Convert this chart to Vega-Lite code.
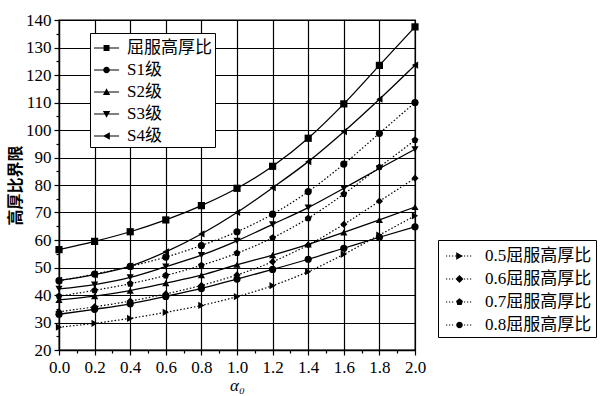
{
  "$schema": "https://vega.github.io/schema/vega-lite/v6.json",
  "width": 356,
  "height": 330,
  "autosize": {"type": "none"},
  "padding": {"left": 59, "top": 20, "right": 185, "bottom": 46},
  "background": "white",
  "datasets": {
    "solid": [
      {"x": 0, "v": 56.5, "s": "屈服高厚比"}, {"x": 0.2, "v": 59.5, "s": "屈服高厚比"}, {"x": 0.4, "v": 63, "s": "屈服高厚比"}, {"x": 0.6, "v": 67.3, "s": "屈服高厚比"}, {"x": 0.8, "v": 72.5, "s": "屈服高厚比"}, {"x": 1.0, "v": 78.8, "s": "屈服高厚比"}, {"x": 1.2, "v": 86.8, "s": "屈服高厚比"}, {"x": 1.4, "v": 97, "s": "屈服高厚比"}, {"x": 1.6, "v": 109.5, "s": "屈服高厚比"}, {"x": 1.8, "v": 123.5, "s": "屈服高厚比"}, {"x": 2.0, "v": 137.5, "s": "屈服高厚比"},
      {"x": 0, "v": 33, "s": "S1级"}, {"x": 0.2, "v": 34.8, "s": "S1级"}, {"x": 0.4, "v": 36.8, "s": "S1级"}, {"x": 0.6, "v": 39.5, "s": "S1级"}, {"x": 0.8, "v": 42.4, "s": "S1级"}, {"x": 1.0, "v": 45.8, "s": "S1级"}, {"x": 1.2, "v": 49.3, "s": "S1级"}, {"x": 1.4, "v": 53, "s": "S1级"}, {"x": 1.6, "v": 57, "s": "S1级"}, {"x": 1.8, "v": 61, "s": "S1级"}, {"x": 2.0, "v": 64.8, "s": "S1级"},
      {"x": 0, "v": 38.2, "s": "S2级"}, {"x": 0.2, "v": 39.6, "s": "S2级"}, {"x": 0.4, "v": 41.6, "s": "S2级"}, {"x": 0.6, "v": 44.3, "s": "S2级"}, {"x": 0.8, "v": 47.2, "s": "S2级"}, {"x": 1.0, "v": 51, "s": "S2级"}, {"x": 1.2, "v": 54.5, "s": "S2级"}, {"x": 1.4, "v": 58.4, "s": "S2级"}, {"x": 1.6, "v": 62.8, "s": "S2级"}, {"x": 1.8, "v": 67.3, "s": "S2级"}, {"x": 2.0, "v": 72, "s": "S2级"},
      {"x": 0, "v": 42.2, "s": "S3级"}, {"x": 0.2, "v": 43.8, "s": "S3级"}, {"x": 0.4, "v": 46.4, "s": "S3级"}, {"x": 0.6, "v": 50.3, "s": "S3级"}, {"x": 0.8, "v": 54.5, "s": "S3级"}, {"x": 1.0, "v": 59.7, "s": "S3级"}, {"x": 1.2, "v": 65.7, "s": "S3级"}, {"x": 1.4, "v": 71.8, "s": "S3级"}, {"x": 1.6, "v": 78.8, "s": "S3级"}, {"x": 1.8, "v": 86, "s": "S3级"}, {"x": 2.0, "v": 93, "s": "S3级"},
      {"x": 0, "v": 45.3, "s": "S4级"}, {"x": 0.2, "v": 47.4, "s": "S4级"}, {"x": 0.4, "v": 50.5, "s": "S4级"}, {"x": 0.6, "v": 55.7, "s": "S4级"}, {"x": 0.8, "v": 62.2, "s": "S4级"}, {"x": 1.0, "v": 70, "s": "S4级"}, {"x": 1.2, "v": 79, "s": "S4级"}, {"x": 1.4, "v": 88.5, "s": "S4级"}, {"x": 1.6, "v": 99.4, "s": "S4级"}, {"x": 1.8, "v": 111.2, "s": "S4级"}, {"x": 2.0, "v": 123.6, "s": "S4级"}
    ],
    "dotted": [
      {"x": 0, "v": 28.3, "s": "0.5屈服高厚比"}, {"x": 0.2, "v": 29.7, "s": "0.5屈服高厚比"}, {"x": 0.4, "v": 31.5, "s": "0.5屈服高厚比"}, {"x": 0.6, "v": 33.7, "s": "0.5屈服高厚比"}, {"x": 0.8, "v": 36.2, "s": "0.5屈服高厚比"}, {"x": 1.0, "v": 39.4, "s": "0.5屈服高厚比"}, {"x": 1.2, "v": 43.4, "s": "0.5屈服高厚比"}, {"x": 1.4, "v": 48.5, "s": "0.5屈服高厚比"}, {"x": 1.6, "v": 54.8, "s": "0.5屈服高厚比"}, {"x": 1.8, "v": 61.8, "s": "0.5屈服高厚比"}, {"x": 2.0, "v": 68.8, "s": "0.5屈服高厚比"},
      {"x": 0, "v": 33.9, "s": "0.6屈服高厚比"}, {"x": 0.2, "v": 35.7, "s": "0.6屈服高厚比"}, {"x": 0.4, "v": 37.8, "s": "0.6屈服高厚比"}, {"x": 0.6, "v": 40.4, "s": "0.6屈服高厚比"}, {"x": 0.8, "v": 43.5, "s": "0.6屈服高厚比"}, {"x": 1.0, "v": 47.3, "s": "0.6屈服高厚比"}, {"x": 1.2, "v": 52.1, "s": "0.6屈服高厚比"}, {"x": 1.4, "v": 58.2, "s": "0.6屈服高厚比"}, {"x": 1.6, "v": 65.7, "s": "0.6屈服高厚比"}, {"x": 1.8, "v": 74.1, "s": "0.6屈服高厚比"}, {"x": 2.0, "v": 82.5, "s": "0.6屈服高厚比"},
      {"x": 0, "v": 39.6, "s": "0.7屈服高厚比"}, {"x": 0.2, "v": 41.7, "s": "0.7屈服高厚比"}, {"x": 0.4, "v": 44.1, "s": "0.7屈服高厚比"}, {"x": 0.6, "v": 47.1, "s": "0.7屈服高厚比"}, {"x": 0.8, "v": 50.8, "s": "0.7屈服高厚比"}, {"x": 1.0, "v": 55.2, "s": "0.7屈服高厚比"}, {"x": 1.2, "v": 60.8, "s": "0.7屈服高厚比"}, {"x": 1.4, "v": 67.9, "s": "0.7屈服高厚比"}, {"x": 1.6, "v": 76.7, "s": "0.7屈服高厚比"}, {"x": 1.8, "v": 86.5, "s": "0.7屈服高厚比"}, {"x": 2.0, "v": 96.3, "s": "0.7屈服高厚比"},
      {"x": 0, "v": 45.2, "s": "0.8屈服高厚比"}, {"x": 0.2, "v": 47.6, "s": "0.8屈服高厚比"}, {"x": 0.4, "v": 50.4, "s": "0.8屈服高厚比"}, {"x": 0.6, "v": 53.8, "s": "0.8屈服高厚比"}, {"x": 0.8, "v": 58, "s": "0.8屈服高厚比"}, {"x": 1.0, "v": 63, "s": "0.8屈服高厚比"}, {"x": 1.2, "v": 69.4, "s": "0.8屈服高厚比"}, {"x": 1.4, "v": 77.6, "s": "0.8屈服高厚比"}, {"x": 1.6, "v": 87.6, "s": "0.8屈服高厚比"}, {"x": 1.8, "v": 98.8, "s": "0.8屈服高厚比"}, {"x": 2.0, "v": 110, "s": "0.8屈服高厚比"}
    ]
  },
  "layer": [
    {
      "data": {"name": "solid"},
      "mark": {"type": "line", "interpolate": "monotone", "stroke": "black", "strokeWidth": 1.3},
      "encoding": {
        "x": {"field": "x", "type": "quantitative", "scale": {"domain": [0, 2], "nice": false, "zero": false},
          "axis": {"orient": "bottom", "values": [0, 0.2, 0.4, 0.6, 0.8, 1.0, 1.2, 1.4, 1.6, 1.8, 2.0], "format": ".1f", "title": "α₀",
            "titleFont": "Liberation Serif, DejaVu Serif", "titleFontStyle": "italic", "titleFontWeight": "normal", "titleFontSize": 17, "titlePadding": 2,
            "grid": true, "tickSize": 5, "labelPadding": 4, "labelFlush": false, "labelOverlap": false}},
        "y": {"field": "v", "type": "quantitative", "scale": {"domain": [20, 140], "nice": false, "zero": false},
          "axis": {"orient": "left", "values": [20, 30, 40, 50, 60, 70, 80, 90, 100, 110, 120, 130, 140], "format": "d", "title": "高厚比界限",
            "titleFont": "Noto Sans CJK SC", "titleFontWeight": "bold", "titleFontSize": 16, "titlePadding": 2,
            "grid": true, "tickSize": 5, "labelPadding": 3, "labelFlush": false, "labelOverlap": false}},
        "detail": {"field": "s"}
      }
    },
    {
      "data": {"name": "dotted"},
      "mark": {"type": "line", "interpolate": "monotone", "stroke": "black", "strokeWidth": 1.2, "strokeDash": [1.5, 2]},
      "encoding": {
        "x": {"field": "x", "type": "quantitative",
          "axis": {"orient": "bottom", "values": [0.1, 0.3, 0.5, 0.7, 0.9, 1.1, 1.3, 1.5, 1.7, 1.9], "labels": false, "grid": false, "domain": false, "tickSize": 3, "title": null}},
        "y": {"field": "v", "type": "quantitative",
          "axis": {"orient": "left", "values": [25, 35, 45, 55, 65, 75, 85, 95, 105, 115, 125, 135], "labels": false, "grid": false, "domain": false, "tickSize": 3, "title": null}},
        "detail": {"field": "s"}
      }
    },
    {
      "data": {"name": "solid"},
      "mark": {"type": "point", "filled": true, "color": "black", "opacity": 1, "size": 52},
      "encoding": {
        "x": {"field": "x", "type": "quantitative", "axis": null},
        "y": {"field": "v", "type": "quantitative", "axis": null},
        "shape": {"field": "s", "type": "nominal",
          "scale": {"domain": ["屈服高厚比", "S1级", "S2级", "S3级", "S4级"], "range": ["square", "circle", "triangle-up", "triangle-down", "triangle-left"]},
          "legend": null}
      }
    },
    {
      "data": {"name": "dotted"},
      "mark": {"type": "point", "filled": true, "color": "black", "opacity": 1, "size": 52},
      "encoding": {
        "x": {"field": "x", "type": "quantitative", "axis": null},
        "y": {"field": "v", "type": "quantitative", "axis": null},
        "shape": {"field": "s", "type": "nominal",
          "scale": {"domain": ["0.5屈服高厚比", "0.6屈服高厚比", "0.7屈服高厚比", "0.8屈服高厚比"], "range": ["triangle-right", "diamond", "M0,-1L0.951,-0.309L0.588,0.809L-0.588,0.809L-0.951,-0.309Z", "circle"]},
          "legend": null}
      }
    },
    {
      "data": {"name": "solid"},
      "transform": [{"filter": "false"}],
      "mark": {"type": "point", "filled": true, "color": "black", "opacity": 1},
      "encoding": {
        "x": {"field": "x", "type": "quantitative", "axis": null},
        "y": {"field": "v", "type": "quantitative", "axis": null},
        "shape": {"field": "s", "type": "nominal",
          "scale": {"domain": ["屈服高厚比", "S1级", "S2级", "S3级", "S4级"],
            "range": [
              "M-1,-0.055H1.28V0.055H-1ZM-0.13,-0.27H0.41V0.27H-0.13Z",
              "M-1,-0.055H1.28V0.055H-1ZM-0.16,0A0.3,0.3 0 1,1 0.44,0A0.3,0.3 0 1,1 -0.16,0Z",
              "M-1,-0.055H1.28V0.055H-1ZM0.14,-0.33L0.47,0.28L-0.19,0.28Z",
              "M-1,-0.055H1.28V0.055H-1ZM0.14,0.33L-0.19,-0.28L0.47,-0.28Z",
              "M-1,-0.055H1.28V0.055H-1ZM-0.19,0L0.44,-0.33L0.44,0.33Z"]},
          "legend": {"orient": "none", "legendX": 31, "legendY": 13, "title": null, "padding": 3, "labelOffset": 10, "symbolSize": 484, "rowPadding": 2,
            "symbolFillColor": "black", "symbolOpacity": 1}}
      }
    },
    {
      "data": {"name": "dotted"},
      "transform": [{"filter": "false"}],
      "mark": {"type": "point", "filled": true, "color": "black", "opacity": 1},
      "encoding": {
        "x": {"field": "x", "type": "quantitative", "axis": null},
        "y": {"field": "v", "type": "quantitative", "axis": null},
        "shape": {"field": "s", "type": "nominal",
          "scale": {"domain": ["0.5屈服高厚比", "0.6屈服高厚比", "0.7屈服高厚比", "0.8屈服高厚比"],
            "range": [
              "M-0.73,-0.05h0.11v0.1h-0.11ZM-0.457,-0.05h0.11v0.1h-0.11ZM-0.184,-0.05h0.11v0.1h-0.11ZM0.089,-0.05h0.11v0.1h-0.11ZM0.908,-0.05h0.11v0.1h-0.11ZM1.181,-0.05h0.11v0.1h-0.11ZM1.454,-0.05h0.11v0.1h-0.11ZM0.83,0L0.2,0.33L0.2,-0.33Z",
              "M-0.73,-0.05h0.11v0.1h-0.11ZM-0.457,-0.05h0.11v0.1h-0.11ZM-0.184,-0.05h0.11v0.1h-0.11ZM0.908,-0.05h0.11v0.1h-0.11ZM1.181,-0.05h0.11v0.1h-0.11ZM1.454,-0.05h0.11v0.1h-0.11ZM0.5,-0.36L0.86,0L0.5,0.36L0.14,0Z",
              "M-0.73,-0.05h0.11v0.1h-0.11ZM-0.457,-0.05h0.11v0.1h-0.11ZM-0.184,-0.05h0.11v0.1h-0.11ZM0.908,-0.05h0.11v0.1h-0.11ZM1.181,-0.05h0.11v0.1h-0.11ZM1.454,-0.05h0.11v0.1h-0.11ZM0.5,-0.33L0.814,-0.102L0.694,0.267L0.306,0.267L0.186,-0.102Z",
              "M-0.73,-0.05h0.11v0.1h-0.11ZM-0.457,-0.05h0.11v0.1h-0.11ZM-0.184,-0.05h0.11v0.1h-0.11ZM0.908,-0.05h0.11v0.1h-0.11ZM1.181,-0.05h0.11v0.1h-0.11ZM1.454,-0.05h0.11v0.1h-0.11ZM0.2,0A0.3,0.3 0 1,1 0.8,0A0.3,0.3 0 1,1 0.2,0Z"]},
          "legend": {"orient": "none", "legendX": 379, "legendY": 220, "title": null, "padding": 4, "labelOffset": 19, "symbolSize": 484, "rowPadding": 3,
            "symbolFillColor": "black", "symbolOpacity": 1}}
      }
    }
  ],
  "resolve": {"scale": {"shape": "independent"}, "axis": {"x": "independent", "y": "independent"}},
  "config": {
    "font": "Liberation Serif, Noto Sans CJK SC",
    "view": {"stroke": "black", "strokeWidth": 1.3},
    "axis": {"labelFont": "Liberation Serif", "labelFontSize": 17, "labelColor": "black", "titleColor": "black",
      "domainColor": "black", "domainWidth": 1.3, "tickColor": "black", "tickWidth": 1.2,
      "gridColor": "black", "gridOpacity": 1, "gridWidth": 1.2},
    "legend": {"labelFont": "Liberation Serif, Noto Sans CJK SC", "labelFontSize": 17, "labelColor": "black",
      "strokeColor": "black", "fillColor": "white", "labelLimit": 300}
  }
}
